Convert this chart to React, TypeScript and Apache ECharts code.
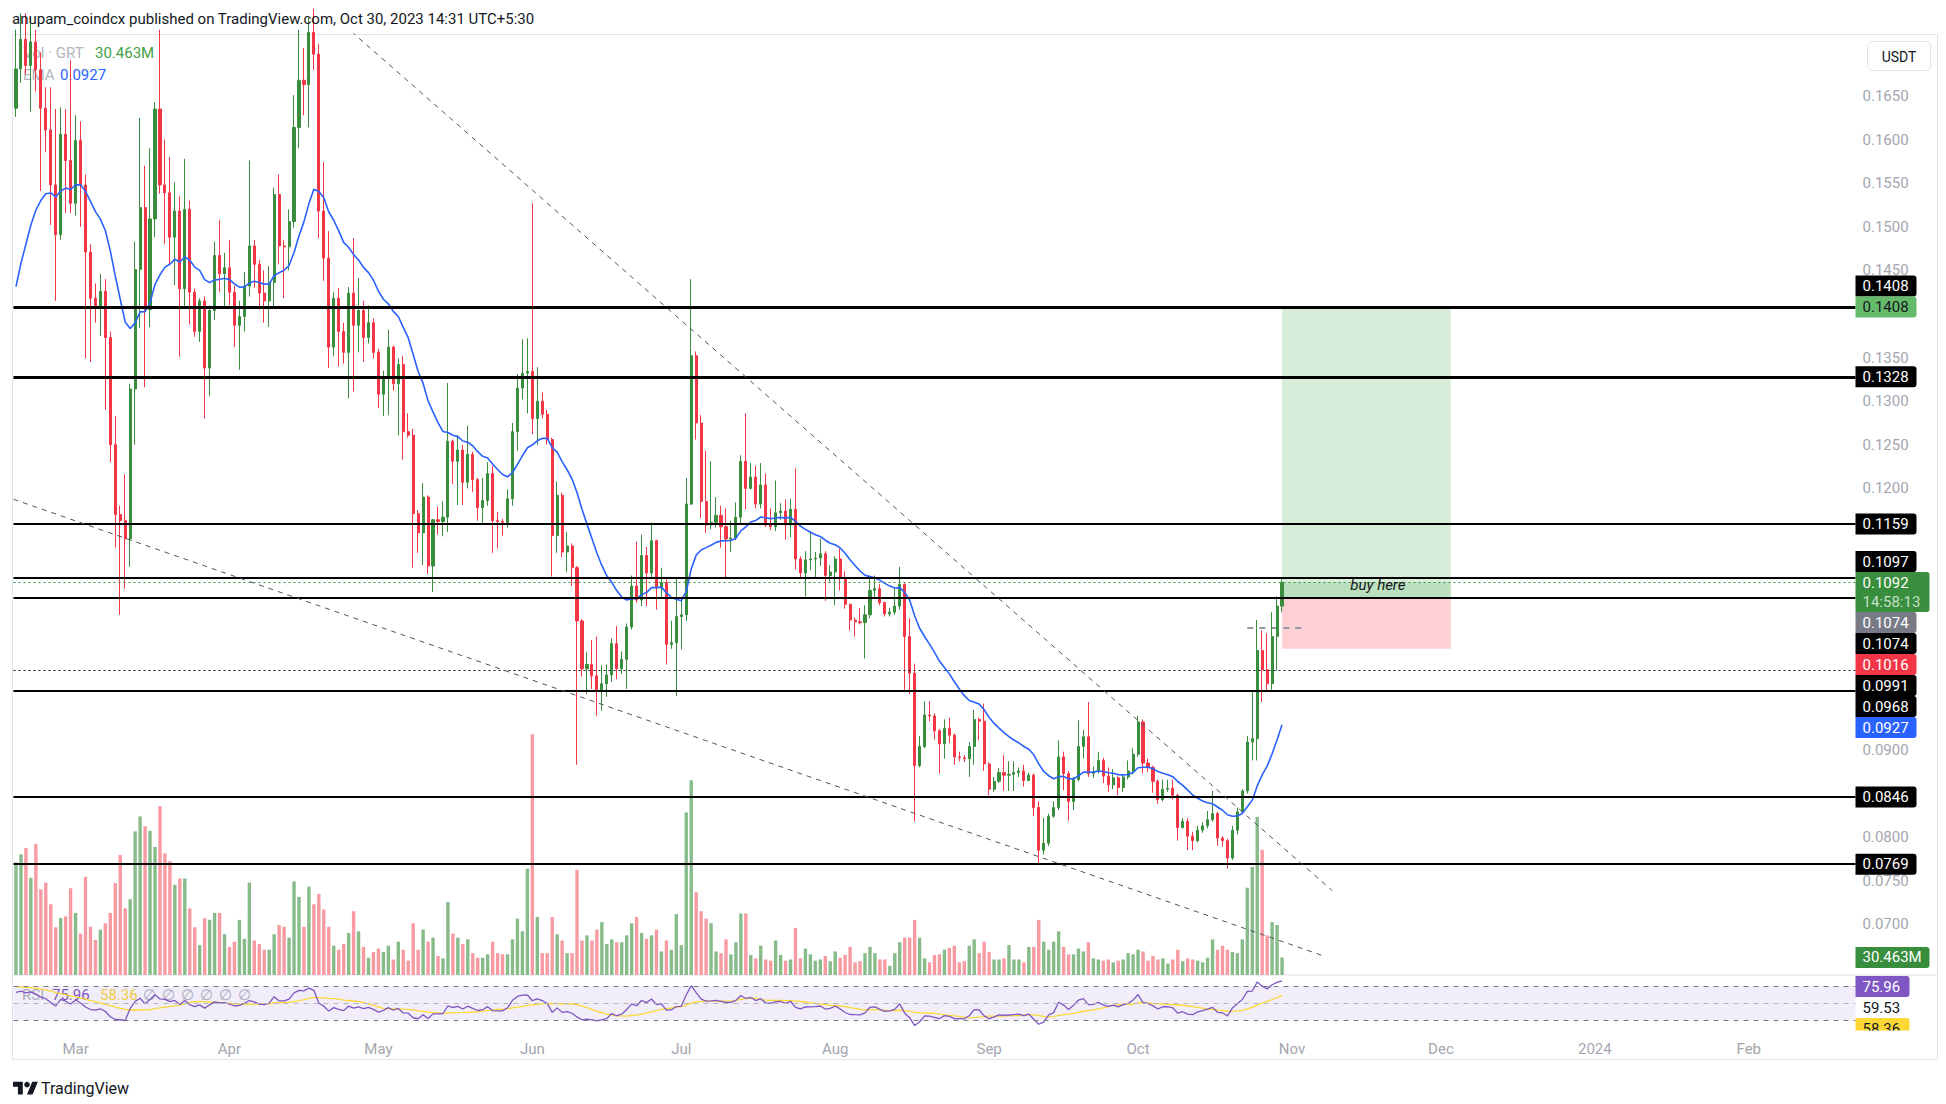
import React, { useEffect, useRef } from "react";
import * as echarts from "echarts";

// ---------------- data ----------------
const firstDayUTC = Date.UTC(2023, 1, 17); // first visible daily candle
const slotCount = 371; // visible daily slots on the time scale (Feb 17 2023 .. Feb 21 2024)

// Feb 17 .. Apr 9
const opens = [
  0.1636, 0.1681, 0.1715, 0.1685, 0.1712, 0.168, 0.1636, 0.1611, 0.1548, 0.1491,
  0.1606, 0.1576, 0.1527, 0.1599, 0.1548, 0.1471, 0.1418, 0.1407, 0.1426, 0.1373,
  0.125, 0.117, 0.1163, 0.1142, 0.1314, 0.1451, 0.1522, 0.1405, 0.1509, 0.1635,
  0.1548, 0.1539, 0.1488, 0.1518, 0.1429, 0.152, 0.1425, 0.138, 0.1415, 0.1338,
  0.1404, 0.1467, 0.1446, 0.1453, 0.1425, 0.1387, 0.1397, 0.1432, 0.1478, 0.1457,
  0.1424, 0.1415,
  // Apr 10 .. Jun 1
  0.1436, 0.1537, 0.1478, 0.1477, 0.1506, 0.1614, 0.1668, 0.1663, 0.1723, 0.1698,
  0.1518, 0.1464, 0.1362, 0.1418, 0.138, 0.1356, 0.1424, 0.1387, 0.1404, 0.1373,
  0.139, 0.1356, 0.1308, 0.1328, 0.1362, 0.132, 0.1342, 0.1265, 0.1261, 0.1171,
  0.1149, 0.119, 0.1111, 0.1164, 0.1162, 0.1167, 0.1254, 0.1231, 0.1244, 0.1207,
  0.1239, 0.121, 0.1178, 0.1186, 0.1217, 0.1163, 0.1162, 0.1161, 0.1188, 0.1265,
  0.1315, 0.1332, 0.1334,
  // Jun 2 .. Jul 23
  0.128, 0.13, 0.1285, 0.1256, 0.1146, 0.1192, 0.1127, 0.1134, 0.1109, 0.1048,
  0.0993, 0.0998, 0.0985, 0.0969, 0.0976, 0.0986, 0.1022, 0.0993, 0.1004, 0.1041,
  0.1088, 0.1072, 0.1123, 0.1103, 0.114, 0.1086, 0.1092, 0.1021, 0.1023, 0.1053,
  0.1055, 0.1182, 0.1352, 0.1275, 0.1185, 0.1158, 0.1161, 0.1169, 0.1156, 0.1142,
  0.1143, 0.1167, 0.1231, 0.12, 0.1213, 0.1182, 0.1204, 0.1158, 0.1156, 0.1172,
  0.1174, 0.1158,
  // Jul 24 .. Sep 14
  0.1176, 0.1119, 0.1103, 0.1118, 0.1119, 0.112, 0.1125, 0.11, 0.1104, 0.1119,
  0.1097, 0.1067, 0.1049, 0.1047, 0.1046, 0.1055, 0.1083, 0.1085, 0.1069, 0.1056,
  0.1058, 0.1065, 0.109, 0.103, 0.0988, 0.0882, 0.0904, 0.094, 0.0939, 0.0922,
  0.0907, 0.0925, 0.0917, 0.0892, 0.0891, 0.089, 0.0904, 0.0935, 0.0933, 0.0884,
  0.0855, 0.0864, 0.0874, 0.0871, 0.0872, 0.0874, 0.0876, 0.0865, 0.0871, 0.0834,
  0.0785, 0.0793, 0.0824,
  // Sep 15 .. Oct 30
  0.0834, 0.0892, 0.0873, 0.0841, 0.0866, 0.0904, 0.0915, 0.0873, 0.0875, 0.0888,
  0.087, 0.086, 0.0868, 0.0857, 0.0869, 0.0876, 0.0895, 0.0932, 0.0885, 0.088,
  0.0864, 0.0843, 0.0855, 0.0856, 0.0848, 0.0811, 0.0818, 0.0801, 0.0796, 0.0808,
  0.0813, 0.082, 0.0827, 0.0799, 0.0796, 0.0776, 0.0808, 0.0829, 0.0853, 0.0909,
  0.0913, 0.1014, 0.0992, 0.0976, 0.103, 0.1065,
];

const closes = [
  0.1681, 0.1715, 0.1685, 0.1712, 0.168, 0.1636, 0.1611, 0.1548, 0.1491, 0.1606,
  0.1576, 0.1527, 0.1599, 0.1548, 0.1471, 0.1418, 0.1407, 0.1426, 0.1373, 0.125,
  0.117, 0.1163, 0.1142, 0.1314, 0.1451, 0.1522, 0.1405, 0.1509, 0.1635, 0.1548,
  0.1539, 0.1488, 0.1518, 0.1429, 0.152, 0.1425, 0.138, 0.1415, 0.1338, 0.1404,
  0.1467, 0.1446, 0.1453, 0.1425, 0.1387, 0.1397, 0.1432, 0.1478, 0.1457, 0.1424,
  0.1415, 0.1436,
  0.1537, 0.1478, 0.1477, 0.1506, 0.1614, 0.1668, 0.1663, 0.1723, 0.1698, 0.1518,
  0.1464, 0.1362, 0.1418, 0.138, 0.1356, 0.1424, 0.1387, 0.1404, 0.1373, 0.139,
  0.1356, 0.1308, 0.1328, 0.1362, 0.132, 0.1342, 0.1265, 0.1261, 0.1171, 0.1149,
  0.119, 0.1111, 0.1164, 0.1162, 0.1167, 0.1254, 0.1231, 0.1244, 0.1207, 0.1239,
  0.121, 0.1178, 0.1186, 0.1217, 0.1163, 0.1162, 0.1161, 0.1188, 0.1265, 0.1315,
  0.1332, 0.1334, 0.128,
  0.13, 0.1285, 0.1256, 0.1146, 0.1192, 0.1127, 0.1134, 0.1109, 0.1048, 0.0993,
  0.0998, 0.0985, 0.0969, 0.0976, 0.0986, 0.1022, 0.0993, 0.1004, 0.1041, 0.1088,
  0.1072, 0.1123, 0.1103, 0.114, 0.1086, 0.1092, 0.1021, 0.1023, 0.1053, 0.1055,
  0.1182, 0.1352, 0.1275, 0.1185, 0.1158, 0.1161, 0.1169, 0.1156, 0.1142, 0.1143,
  0.1167, 0.1231, 0.12, 0.1213, 0.1182, 0.1204, 0.1158, 0.1156, 0.1172, 0.1174,
  0.1158, 0.1176,
  0.1119, 0.1103, 0.1118, 0.1119, 0.112, 0.1125, 0.11, 0.1104, 0.1119, 0.1097,
  0.1067, 0.1049, 0.1047, 0.1046, 0.1055, 0.1083, 0.1085, 0.1069, 0.1056, 0.1058,
  0.1065, 0.109, 0.103, 0.0988, 0.0882, 0.0904, 0.094, 0.0939, 0.0922, 0.0907,
  0.0925, 0.0917, 0.0892, 0.0891, 0.089, 0.0904, 0.0935, 0.0933, 0.0884, 0.0855,
  0.0864, 0.0874, 0.0871, 0.0872, 0.0874, 0.0876, 0.0865, 0.0871, 0.0834, 0.0785,
  0.0793, 0.0824, 0.0834,
  0.0892, 0.0873, 0.0841, 0.0866, 0.0904, 0.0915, 0.0873, 0.0875, 0.0888, 0.087,
  0.086, 0.0868, 0.0857, 0.0869, 0.0876, 0.0895, 0.0932, 0.0885, 0.088, 0.0864,
  0.0843, 0.0855, 0.0856, 0.0848, 0.0811, 0.0818, 0.0801, 0.0796, 0.0808, 0.0813,
  0.082, 0.0827, 0.0799, 0.0796, 0.0776, 0.0808, 0.0829, 0.0853, 0.0909, 0.0913,
  0.1014, 0.0992, 0.0976, 0.103, 0.1065, 0.1092,
];

const highs = [
  0.1726, 0.1745, 0.1745, 0.174, 0.1726, 0.17, 0.166, 0.166, 0.1635, 0.1637,
  0.1635, 0.1691, 0.1628, 0.1621, 0.156, 0.148, 0.1435, 0.1446, 0.144, 0.138,
  0.1283, 0.118, 0.1216, 0.132, 0.1483, 0.1625, 0.157, 0.159, 0.1643, 0.1726,
  0.16, 0.158, 0.1551, 0.1535, 0.1578, 0.153, 0.1429, 0.1418, 0.142, 0.141,
  0.1483, 0.1508, 0.147, 0.1485, 0.1432, 0.1415, 0.1448, 0.1576, 0.1485, 0.1462,
  0.145, 0.1455,
  0.1545, 0.156, 0.1485, 0.152, 0.1651, 0.1726, 0.1705, 0.174, 0.175, 0.171,
  0.1574, 0.1495, 0.1425, 0.143, 0.139, 0.1431, 0.1487, 0.1441, 0.1415, 0.141,
  0.1395, 0.136, 0.1335, 0.1382, 0.1364, 0.1349, 0.1352, 0.1286, 0.1268, 0.1175,
  0.1206, 0.1192, 0.1165, 0.1179, 0.1185, 0.1321, 0.1256, 0.1261, 0.125, 0.1272,
  0.1242, 0.1212, 0.1212, 0.123, 0.1226, 0.1173, 0.1165, 0.1199, 0.1275, 0.1331,
  0.1371, 0.1372, 0.1527,
  0.1339, 0.131, 0.129, 0.1258, 0.1208, 0.1195, 0.115, 0.1137, 0.1111, 0.105,
  0.1012, 0.1026, 0.103, 0.0997, 0.0998, 0.1028, 0.1042, 0.1013, 0.1045, 0.11,
  0.1139, 0.1147, 0.1133, 0.1161, 0.1141, 0.1109, 0.1097, 0.1048, 0.1097, 0.1071,
  0.1212, 0.144, 0.1357, 0.1284, 0.1243, 0.1231, 0.119, 0.118, 0.1177, 0.1163,
  0.1184, 0.1238, 0.1286, 0.1229, 0.1226, 0.1229, 0.1217, 0.1177, 0.1209, 0.1183,
  0.1187, 0.1188,
  0.1223, 0.1122, 0.1128, 0.1151, 0.1127, 0.1142, 0.1128, 0.1112, 0.1122, 0.1131,
  0.1105, 0.1068, 0.1052, 0.1063, 0.1066, 0.11, 0.11, 0.109, 0.107, 0.1063,
  0.1086, 0.111, 0.1091, 0.1051, 0.0999, 0.0916, 0.0956, 0.0956, 0.0942, 0.0924,
  0.0935, 0.0937, 0.0919, 0.0898, 0.0894, 0.0909, 0.0946, 0.0937, 0.0953, 0.0886,
  0.0869, 0.0879, 0.0894, 0.0887, 0.0887, 0.088, 0.0883, 0.0874, 0.0873, 0.0841,
  0.0822, 0.0827, 0.0841,
  0.0911, 0.0898, 0.0876, 0.0869, 0.0934, 0.0923, 0.0955, 0.0881, 0.0898, 0.0891,
  0.088, 0.0878, 0.087, 0.0872, 0.0888, 0.0902, 0.0939, 0.0935, 0.089, 0.0882,
  0.0866, 0.0866, 0.0866, 0.0866, 0.085, 0.0822, 0.0822, 0.0806, 0.0813, 0.0817,
  0.083, 0.0853, 0.0829, 0.0801, 0.0798, 0.0813, 0.0834, 0.0855, 0.0916, 0.0967,
  0.1049, 0.1037, 0.1034, 0.1058, 0.1076, 0.1096,
];

const lows = [
  0.1626, 0.1665, 0.1675, 0.1632, 0.1655, 0.1541, 0.1586, 0.1502, 0.1415, 0.1485,
  0.1516, 0.1516, 0.1513, 0.15, 0.1349, 0.1345, 0.139, 0.1375, 0.129, 0.123,
  0.1132, 0.1055, 0.1085, 0.111, 0.125, 0.1384, 0.1316, 0.1385, 0.1488, 0.1538,
  0.148, 0.1457, 0.1433, 0.1351, 0.1408, 0.1388, 0.1374, 0.1368, 0.128, 0.1306,
  0.1393, 0.1425, 0.1406, 0.141, 0.1362, 0.1336, 0.138, 0.142, 0.143, 0.1405,
  0.139, 0.1385,
  0.1407, 0.1457, 0.1418, 0.145, 0.1499, 0.159, 0.1628, 0.1614, 0.168, 0.1487,
  0.1438, 0.1338, 0.1352, 0.134, 0.1343, 0.1303, 0.1311, 0.1356, 0.1345, 0.1366,
  0.1349, 0.1292, 0.1283, 0.1284, 0.1312, 0.1261, 0.1233, 0.1258, 0.1109, 0.1126,
  0.1112, 0.1102, 0.1081, 0.1147, 0.1145, 0.115, 0.1205, 0.1181, 0.1181, 0.12,
  0.1196, 0.1163, 0.1159, 0.118, 0.1126, 0.1131, 0.1146, 0.1155, 0.118, 0.1243,
  0.1302, 0.1286, 0.1262,
  0.125, 0.128, 0.125, 0.1099, 0.1126, 0.1121, 0.1104, 0.1088, 0.0883, 0.0984,
  0.0964, 0.097, 0.0939, 0.0945, 0.0961, 0.0978, 0.0981, 0.0987, 0.097, 0.1038,
  0.1069, 0.1065, 0.1065, 0.1096, 0.1061, 0.1074, 0.0998, 0.1016, 0.0962, 0.1015,
  0.1048, 0.1181, 0.1256, 0.1166, 0.1149, 0.1153, 0.1155, 0.1132, 0.1098, 0.1127,
  0.1141, 0.116, 0.1176, 0.1199, 0.1177, 0.1177, 0.1156, 0.1152, 0.1151, 0.1164,
  0.1141, 0.1144,
  0.1107, 0.1097, 0.1076, 0.1106, 0.1097, 0.1111, 0.1071, 0.1093, 0.1066, 0.1083,
  0.1062, 0.1037, 0.103, 0.1044, 0.1005, 0.1051, 0.1075, 0.1066, 0.1053, 0.1053,
  0.1055, 0.1061, 0.0969, 0.0964, 0.0818, 0.088, 0.0902, 0.0933, 0.0912, 0.0873,
  0.089, 0.0908, 0.0883, 0.0887, 0.0886, 0.0869, 0.0883, 0.0911, 0.0876, 0.0848,
  0.0852, 0.0862, 0.0853, 0.0853, 0.0853, 0.0869, 0.0858, 0.0864, 0.0824, 0.0768,
  0.078, 0.079, 0.0822,
  0.0831, 0.0854, 0.0819, 0.0831, 0.0864, 0.089, 0.0869, 0.0868, 0.0873, 0.0862,
  0.0852, 0.0855, 0.0848, 0.0852, 0.0866, 0.0872, 0.0892, 0.0873, 0.0875, 0.0851,
  0.0838, 0.0841, 0.0852, 0.0843, 0.0796, 0.081, 0.0785, 0.0785, 0.0794, 0.0805,
  0.081, 0.0818, 0.079, 0.0789, 0.0764, 0.0774, 0.0803, 0.0827, 0.085, 0.0888,
  0.0888, 0.0955, 0.0967, 0.0969, 0.0991, 0.1058,
];

// daily volume, millions of GRT
const volumesM = [
  196, 210, 221, 169, 228, 149, 161, 123, 83, 99, 102, 151, 108, 72, 171, 84, 61, 79, 90, 108,
  160, 209, 116, 132, 250, 276, 259, 251, 223, 294, 212, 198, 157, 168, 168, 116, 83, 52, 99, 96,
  108, 108, 71, 49, 58, 96, 63, 161, 60, 54, 44, 44,
  71, 87, 84, 65, 163, 136, 84, 154, 123, 141, 114, 84, 51, 44, 54, 73, 111, 76, 49, 30,
  40, 46, 40, 51, 27, 58, 44, 25, 90, 44, 79, 58, 65, 33, 29, 127, 72, 65, 54, 62,
  38, 30, 30, 36, 58, 38, 36, 36, 62, 98, 76, 185, 419,
  101, 38, 38, 101, 71, 60, 38, 38, 183, 60, 69, 60, 79, 92, 54, 62, 57, 57, 69, 90,
  101, 73, 63, 69, 79, 41, 60, 44, 106, 52, 283, 339, 144, 111, 98, 90, 41, 38, 62, 36,
  57, 107, 107, 35, 29, 51, 27, 25, 60, 35, 25, 27,
  82, 29, 46, 36, 25, 27, 33, 24, 41, 30, 35, 49, 22, 24, 38, 49, 38, 27, 27, 16,
  38, 57, 65, 65, 96, 65, 29, 22, 35, 36, 44, 47, 51, 22, 24, 51, 62, 38, 58, 40,
  27, 27, 29, 52, 27, 27, 22, 49, 49, 96, 58, 44, 58,
  76, 49, 36, 36, 46, 41, 57, 29, 27, 25, 27, 22, 25, 27, 38, 36, 44, 41, 25, 33,
  27, 29, 20, 27, 44, 24, 29, 27, 25, 22, 30, 62, 44, 51, 44, 40, 38, 62, 152, 188,
  275, 218, 69, 92, 87, 30.463,
];

// horizontal levels drawn on the chart
const solidLevels = [0.1408, 0.1328, 0.1159, 0.1097, 0.1074, 0.0968, 0.0846, 0.0769];
const heavyLevels = [0.1408, 0.1328];
const dottedLevels = [0.0991];
const lastPrice = 0.1092;

// price scale (only the tick labels that are not hidden behind price tags)
const priceMin = 0.06419;
const priceMax = 0.17211;
const priceTicks = [
  0.07, 0.075, 0.08, 0.09, 0.12, 0.125, 0.13, 0.135, 0.145, 0.15, 0.155, 0.16, 0.165,
];
const volumeMax = 1638;
const rsiMin = 18.2;
const rsiMax = 82.9;
const rsiLevels = [70, 50, 30];

// trend lines as [bar index, price]
const upperTrend = [[60, 0.17616], [265.1, 0.07387]];
const lowerTrend = [[-0.5, 0.11875], [263.1, 0.06643]];

// long-position tool
const positionFrom = 255;
const positionTo = 289;
const positionEntry = 0.1074;
const positionTarget = 0.1408;
const positionStop = 0.1016;
const positionMidLine = [[248, 0.104], [260, 0.104]];
const buyHereAt = [274.3, 0.1089];
const buyHereText = "buy here";

// indicator seeds (state before the first visible bar)
const emaLength = 20;
const emaSeed = 0.1405;
const rsiLength = 14;
const rsiSeedGain = 0.004;
const rsiSeedLoss = 0.0026;
const rsiMaLength = 14;
const rsiMaSeed = 70;

// texts
const headerText = "anupam_coindcx published on TradingView.com, Oct 30, 2023 14:31 UTC+5:30";
const monthNames = ["Jan", "Feb", "Mar", "Apr", "May", "Jun", "Jul", "Aug", "Sep", "Oct", "Nov", "Dec"];
const priceMarkers = [
  { price: 0.1408, text: "0.1408", kind: "level" },
  { price: 0.1408, text: "0.1408", kind: "target" },
  { price: 0.1328, text: "0.1328", kind: "level" },
  { price: 0.1159, text: "0.1159", kind: "level" },
  { price: 0.1097, text: "0.1097", kind: "level" },
  { price: 0.1092, text: "0.1092", sub: "14:58:13", kind: "last" },
  { price: 0.1074, text: "0.1074", kind: "entry" },
  { price: 0.1074, text: "0.1074", kind: "level" },
  { price: 0.1016, text: "0.1016", kind: "stop" },
  { price: 0.0991, text: "0.0991", kind: "level" },
  { price: 0.0968, text: "0.0968", kind: "level" },
  { price: 0.0927, text: "0.0927", kind: "ema" },
  { price: 0.0846, text: "0.0846", kind: "level" },
  { price: 0.0769, text: "0.0769", kind: "level" },
];
const volumeMarker = { value: 30.463, text: "30.463M" };
const rsiMarkers = [
  { value: 75.96, text: "75.96", kind: "rsi" },
  { value: 59.53, text: "59.53", kind: "plain" },
  { value: 58.36, text: "58.36", kind: "rsima" },
];
const legendVolLabel = "Vol · GRT";
const legendVolValue = "30.463M";
const legendEmaLabel = "EMA";
const legendEmaValue = "0.0927";
const legendRsiLabel = "RSI";
const legendRsiValue = "75.96";
const legendRsiMaValue = "58.36";
const legendRsiEmpty = ["∅", "∅", "∅", "∅", "∅", "∅"];

// ---------------- derived ----------------
const categories: string[] = [];
for (let i = 0; i < slotCount; i++) {
  categories.push(new Date(firstDayUTC + i * 86400000).toISOString().slice(0, 10));
}

function emaOf(values: number[], len: number, seed: number) {
  const k = 2 / (len + 1);
  let e = seed;
  return values.map((v) => (e = e + k * (v - e)));
}
function rsiOf(values: number[], firstPrev: number, len: number, g0: number, l0: number) {
  let g = g0;
  let l = l0;
  let prev = firstPrev;
  return values.map((c) => {
    const d = c - prev;
    prev = c;
    g = (g * (len - 1) + Math.max(d, 0)) / len;
    l = (l * (len - 1) + Math.max(-d, 0)) / len;
    return 100 - 100 / (1 + g / l);
  });
}
function smaOf(values: number[], len: number, seed: number) {
  return values.map((_, i) => {
    let s = 0;
    for (let j = i - len + 1; j <= i; j++) s += j < 0 ? seed : values[j];
    return s / len;
  });
}

const emaValues = emaOf(closes, emaLength, emaSeed);
const rsiValues = rsiOf(closes, opens[0], rsiLength, rsiSeedGain, rsiSeedLoss);
const rsiMaValues = smaOf(rsiValues, rsiMaLength, rsiMaSeed);

// ---------------- styles ----------------
const FONT = "Roboto, 'Noto Sans', 'DejaVu Sans', sans-serif";
const UP = "#388e3c";
const DOWN = "#f23645";
const VOL_UP = "#88bb8a";
const VOL_DOWN = "#f89aa2";
const TEXT = "#131722";
const AXIS_TEXT = "#a3a6af";
const GRID_LEFT = 13.5;
const GRID_WIDTH = 1842;
const MAIN_TOP = 34;
const MAIN_HEIGHT = 941;
const RSI_TOP = 975;
const RSI_HEIGHT = 55;
const FRAME = { x: 12.5, y: 34.5, w: 1925, h: 1025 };

const markerStyle: Record<string, { bg: string | null; fg: string; w: number; h: number }> = {
  level: { bg: "#000000", fg: "#ffffff", w: 61, h: 21 },
  target: { bg: "#66bb6a", fg: TEXT, w: 61, h: 21 },
  last: { bg: "#388e3c", fg: "#ffffff", w: 74, h: 40 },
  entry: { bg: "#787b86", fg: "#ffffff", w: 61, h: 21 },
  stop: { bg: "#f23645", fg: "#ffffff", w: 61, h: 21 },
  ema: { bg: "#2962ff", fg: "#ffffff", w: 61, h: 21 },
  vol: { bg: "#388e3c", fg: "#ffffff", w: 74, h: 21 },
  rsi: { bg: "#7e57c2", fg: "#ffffff", w: 54, h: 21 },
  plain: { bg: null, fg: TEXT, w: 54, h: 21 },
  rsima: { bg: "#fdd835", fg: TEXT, w: 54, h: 21 },
};

try {
  echarts.graphic.registerShape(
    "tvlogo",
    echarts.graphic.extendPath("M14 22H7V11H0V4h14v18zM28 22h-8l7.5-18h8L28 22z", {})
  );
} catch (e) {
  /* already registered */
}

function buildOption(): any {
  const candleData = opens.map((o, i) => [o, closes[i], lows[i], highs[i]]);
  const volData = volumesM.map((v, i) => ({
    value: v,
    itemStyle: { color: closes[i] >= opens[i] ? VOL_UP : VOL_DOWN },
  }));
  const levelLines: any[] = solidLevels.map((v) => ({
    yAxis: v,
    lineStyle: { color: "#000000", width: heavyLevels.indexOf(v) >= 0 ? 3 : 2, type: "solid" },
  }));
  dottedLevels.forEach((v) =>
    levelLines.push({ yAxis: v, lineStyle: { color: "#131722", width: 1, type: [2, 3] } })
  );
  levelLines.push({ yAxis: lastPrice, lineStyle: { color: UP, width: 1, type: [2, 3] } });

  return {
    animation: false,
    backgroundColor: "#ffffff",
    grid: [
      { left: GRID_LEFT, top: MAIN_TOP, width: GRID_WIDTH, height: MAIN_HEIGHT },
      { left: GRID_LEFT, top: RSI_TOP, width: GRID_WIDTH, height: RSI_HEIGHT },
    ],
    xAxis: [
      { type: "category", gridIndex: 0, data: categories, boundaryGap: true, show: false },
      { type: "value", gridIndex: 0, min: -0.5, max: slotCount - 0.5, show: false },
      {
        type: "category",
        gridIndex: 1,
        data: categories,
        boundaryGap: true,
        axisLine: { show: false },
        axisTick: { show: false },
        splitLine: { show: false },
        axisLabel: {
          interval: (_idx: number, value: string) => value.slice(8, 10) === "01",
          formatter: (value: string) => {
            const m = +value.slice(5, 7);
            return m === 1 ? value.slice(0, 4) : monthNames[m - 1];
          },
          color: AXIS_TEXT,
          fontSize: 15,
          fontFamily: FONT,
          margin: 11,
        },
      },
    ],
    yAxis: [
      {
        type: "value",
        gridIndex: 0,
        position: "right",
        min: priceMin,
        max: priceMax,
        splitLine: { show: false },
        axisLine: { show: false },
        axisTick: { show: false },
        axisLabel: {
          customValues: priceTicks,
          formatter: (v: number) => v.toFixed(4),
          color: AXIS_TEXT,
          fontSize: 15,
          fontFamily: FONT,
          margin: 7,
        },
      },
      { type: "value", gridIndex: 0, min: 0, max: volumeMax, show: false },
      { type: "value", gridIndex: 1, min: rsiMin, max: rsiMax, show: false },
    ],
    series: [
      {
        type: "bar",
        name: "volume",
        xAxisIndex: 0,
        yAxisIndex: 1,
        data: volData,
        barWidth: 3.4,
        silent: true,
        z: 2,
      },
      {
        type: "line",
        name: "position",
        xAxisIndex: 1,
        yAxisIndex: 0,
        data: positionMidLine,
        symbol: "none",
        silent: true,
        lineStyle: { color: "#9598a1", width: 2, type: [6, 6] },
        z: 1,
        markArea: {
          silent: true,
          data: [
            [
              { coord: [positionFrom, positionEntry], itemStyle: { color: "rgba(76,175,80,0.22)" } },
              { coord: [positionTo, positionTarget] },
            ],
            [
              { coord: [positionFrom, positionEntry], itemStyle: { color: "rgba(76,175,80,0.2)" } },
              { coord: [positionTo, lastPrice] },
            ],
            [
              { coord: [positionFrom, positionStop], itemStyle: { color: "rgba(242,54,69,0.23)" } },
              { coord: [positionTo, positionEntry] },
            ],
          ],
        },
      },
      {
        type: "candlestick",
        name: "GRT",
        xAxisIndex: 0,
        yAxisIndex: 0,
        data: candleData,
        barWidth: 2.6,
        clip: true,
        silent: true,
        z: 3,
        itemStyle: { color: UP, color0: DOWN, borderColor: UP, borderColor0: DOWN, borderWidth: 1 },
      },
      {
        type: "line",
        name: "EMA",
        xAxisIndex: 0,
        yAxisIndex: 0,
        data: emaValues,
        symbol: "none",
        showSymbol: false,
        silent: true,
        lineStyle: { color: "#2962ff", width: 1.6 },
        z: 4,
      },
      {
        type: "line",
        name: "upperTrend",
        xAxisIndex: 1,
        yAxisIndex: 0,
        data: upperTrend,
        symbol: "none",
        silent: true,
        clip: true,
        lineStyle: { color: "#50535e", width: 1, type: [5, 5] },
        z: 5,
        markLine: {
          silent: true,
          precision: 6,
          symbol: ["none", "none"],
          label: { show: false },
          data: levelLines,
        },
      },
      {
        type: "line",
        name: "lowerTrend",
        xAxisIndex: 1,
        yAxisIndex: 0,
        data: lowerTrend,
        symbol: "none",
        silent: true,
        clip: true,
        lineStyle: { color: "#50535e", width: 1, type: [5, 5] },
        z: 5,
      },
      {
        type: "line",
        name: "RSI",
        xAxisIndex: 2,
        yAxisIndex: 2,
        data: rsiValues,
        symbol: "none",
        silent: true,
        lineStyle: { color: "#7e57c2", width: 1.3 },
        z: 4,
        markArea: {
          silent: true,
          itemStyle: { color: "rgba(126,87,194,0.1)" },
          data: [[{ yAxis: rsiLevels[0] }, { yAxis: rsiLevels[2] }]],
        },
        markLine: {
          silent: true,
          precision: 2,
          symbol: ["none", "none"],
          label: { show: false },
          data: rsiLevels.map((v, i) => ({
            yAxis: v,
            lineStyle: { color: i === 1 ? "#b2b5be" : "#787b86", width: 1, type: [5, 5] },
          })),
        },
      },
      {
        type: "line",
        name: "RSI MA",
        xAxisIndex: 2,
        yAxisIndex: 2,
        data: rsiMaValues,
        symbol: "none",
        silent: true,
        lineStyle: { color: "#fdd835", width: 1.3 },
        z: 3,
      },
    ],
  };
}

function txt(x: number, y: number, s: string, fill: string, size: number, extra: any = {}) {
  const align = extra.align || "left";
  return {
    type: "text",
    x,
    y,
    z: extra.z ?? 10,
    silent: true,
    style: {
      text: s,
      fill,
      fontSize: size,
      fontFamily: FONT,
      fontStyle: extra.italic ? "italic" : "normal",
      fontWeight: extra.bold ? "bold" : "normal",
      align,
      verticalAlign: "middle",
      textAlign: align,
      textVerticalAlign: "middle",
    },
  };
}

function stackLabels(items: { natTop: number; h: number; anchor: boolean }[]) {
  const tops = items.map((it) => it.natTop);
  for (let j = 1; j < items.length; j++) {
    if (!items[j].anchor) tops[j] = Math.max(tops[j], tops[j - 1] + items[j - 1].h);
  }
  for (let j = items.length - 2; j >= 0; j--) {
    if (!items[j].anchor) tops[j] = Math.min(tops[j], tops[j + 1] - items[j].h);
  }
  return tops;
}

function buildGraphics(chart: any): any[] {
  const els: any[] = [];
  const boxX = GRID_LEFT + GRID_WIDTH;
  const textX = boxX + 7;

  // frame
  els.push({
    type: "rect",
    z: 0,
    silent: true,
    shape: { x: FRAME.x, y: FRAME.y, width: FRAME.w, height: FRAME.h },
    style: { fill: "none", stroke: "#e0e3eb", lineWidth: 1 },
  });
  els.push({
    type: "line",
    z: 0,
    silent: true,
    shape: { x1: FRAME.x, y1: RSI_TOP, x2: FRAME.x + FRAME.w, y2: RSI_TOP },
    style: { stroke: "#e0e3eb", lineWidth: 1 },
  });

  // header & footer
  els.push(txt(12, 19, headerText, TEXT, 15));
  els.push({
    type: "tvlogo",
    x: 13,
    y: 1079,
    scaleX: 0.7,
    scaleY: 0.7,
    z: 10,
    silent: true,
    style: { fill: TEXT },
  });
  els.push({
    type: "circle",
    z: 10,
    silent: true,
    shape: { cx: 13 + 20 * 0.7, cy: 1079 + 8 * 0.7, r: 2.8 },
    style: { fill: TEXT },
  });
  els.push(txt(41, 1088, "TradingView", TEXT, 16));

  // legends (behind candles)
  els.push(txt(23, 53, legendVolLabel, "#b2b5be", 15, { z: 0 }));
  els.push(txt(95, 53, legendVolValue, "#43a047", 15, { z: 0 }));
  els.push(txt(23, 75, legendEmaLabel, "#b2b5be", 15, { z: 0 }));
  els.push(txt(60, 75, legendEmaValue, "#2962ff", 15, { z: 0 }));
  els.push(txt(22, 995, legendRsiLabel, "#b2b5be", 15, { z: 0 }));
  els.push(txt(52, 995, legendRsiValue, "#7e57c2", 15, { z: 0 }));
  els.push(txt(100, 995, legendRsiMaValue, "#fdd835", 15, { z: 0 }));
  legendRsiEmpty.forEach((s, i) => els.push(txt(143 + i * 19, 995, s, "#b2b5be", 15, { z: 0 })));

  // USDT box
  els.push({
    type: "rect",
    z: 100,
    silent: true,
    shape: { x: 1867.5, y: 41.5, width: 63, height: 29, r: 5 },
    style: { fill: "#ffffff", stroke: "#e0e3eb", lineWidth: 1 },
  });
  els.push(txt(1899, 56.5, "USDT", TEXT, 14, { align: "center", z: 101 }));

  // price-scale tags
  const priceItems = priceMarkers.map((m) => {
    const y = chart.convertToPixel({ yAxisIndex: 0 }, m.price);
    const st = markerStyle[m.kind];
    return { natTop: y - 10.5, h: st.h, anchor: m.kind === "last" || m.kind === "target" };
  });
  const priceTops = stackLabels(priceItems);
  priceMarkers.forEach((m: any, i) => {
    const st = markerStyle[m.kind];
    const top = priceTops[i];
    if (st.bg) {
      els.push({
        type: "rect",
        z: 100,
        silent: true,
        shape: { x: boxX, y: top, width: st.w, height: st.h, r: [0, 3, 3, 0] },
        style: { fill: st.bg },
      });
    }
    els.push(txt(textX, top + 10.5, m.text, st.fg, 15, { z: 101 }));
    if (m.sub) els.push(txt(textX, top + 29.5, m.sub, "rgba(255,255,255,0.72)", 15, { z: 101 }));
  });

  // volume tag
  {
    const y = chart.convertToPixel({ yAxisIndex: 1 }, volumeMarker.value);
    const st = markerStyle.vol;
    els.push({
      type: "rect",
      z: 100,
      silent: true,
      shape: { x: boxX, y: y - 10.5, width: st.w, height: st.h, r: [0, 3, 3, 0] },
      style: { fill: st.bg },
    });
    els.push(txt(textX, y, volumeMarker.text, st.fg, 15, { z: 101 }));
  }

  // RSI tags
  const rsiItems = rsiMarkers.map((m) => {
    const y = chart.convertToPixel({ yAxisIndex: 2 }, m.value);
    return { natTop: y - 10.5, h: markerStyle[m.kind].h };
  });
  const rsiTops = rsiItems.map((it) => it.natTop);
  for (let j = 0; j < rsiItems.length; j++) {
    rsiTops[j] = Math.max(rsiTops[j], RSI_TOP + 1);
    if (j > 0) rsiTops[j] = Math.max(rsiTops[j], rsiTops[j - 1] + rsiItems[j - 1].h);
  }
  rsiMarkers.forEach((m, i) => {
    const st = markerStyle[m.kind];
    const top = rsiTops[i];
    if (st.bg) {
      els.push({
        type: "rect",
        z: 100,
        silent: true,
        shape: { x: boxX, y: top, width: st.w, height: st.h, r: [0, 3, 3, 0] },
        style: { fill: st.bg },
      });
    }
    els.push(txt(textX, top + 10.5, m.text, st.fg, 15, { z: 101 }));
  });
  // the RSI pane clips its tags at its bottom edge
  els.push({
    type: "rect",
    z: 110,
    silent: true,
    shape: { x: boxX - 2, y: RSI_TOP + RSI_HEIGHT + 0.5, width: 80, height: 9 },
    style: { fill: "#ffffff" },
  });

  // "buy here" note
  const bp = chart.convertToPixel({ xAxisIndex: 1, yAxisIndex: 0 }, buyHereAt);
  els.push(txt(bp[0], bp[1], buyHereText, TEXT, 15, { align: "center", italic: true, z: 20 }));

  return els;
}

export default function App() {
  const ref = useRef<HTMLDivElement>(null);
  useEffect(() => {
    if (!ref.current) return;
    const chart = echarts.init(ref.current, null, { renderer: "svg", width: 1946, height: 1104 });
    chart.setOption(buildOption());
    chart.setOption({ graphic: buildGraphics(chart) });
    return () => chart.dispose();
  }, []);
  return (
    <div
      ref={ref}
      style={{ position: "fixed", left: 0, top: 0, width: 1946, height: 1104, background: "#ffffff" }}
    />
  );
}
